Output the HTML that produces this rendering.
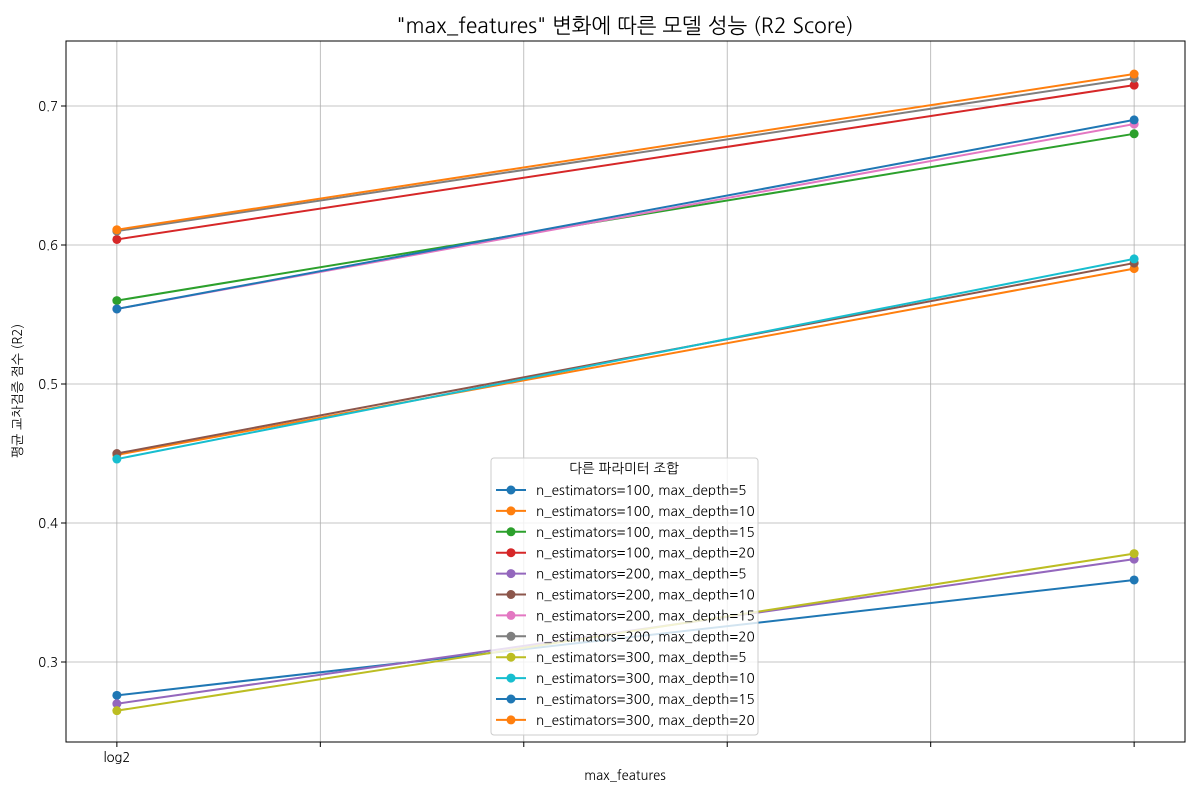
<!DOCTYPE html>
<html><head><meta charset="utf-8">
<style>
body{margin:0;background:#fff;}
svg text{font-family:"NanumGothic","Liberation Sans","Noto Sans CJK KR",sans-serif;}
</style></head>
<body>
<svg id="chart" width="1200" height="800" xmlns="http://www.w3.org/2000/svg">
<text x="625" y="33" text-anchor="middle" font-size="21">"max_features" 변화에 따른 모델 성능 (R2 Score)</text>
<g id="grid"></g>
<g id="axes"></g>
<g id="series"></g>
<rect x="66" y="41" width="1119" height="701" fill="none" stroke="#000" stroke-width="1"/>
<text x="625" y="780" text-anchor="middle" font-size="13">max_features</text>
<text transform="translate(22,391) rotate(-90)" text-anchor="middle" font-size="13">평균 교차검증 점수 (R2)</text>
<g id="legend"></g>
</svg>
<script>
const seriesNames = ["n_estimators=100, max_depth=5","n_estimators=100, max_depth=10","n_estimators=100, max_depth=15","n_estimators=100, max_depth=20","n_estimators=200, max_depth=5","n_estimators=200, max_depth=10","n_estimators=200, max_depth=15","n_estimators=200, max_depth=20","n_estimators=300, max_depth=5","n_estimators=300, max_depth=10","n_estimators=300, max_depth=15","n_estimators=300, max_depth=20"];
const startValues = [0.276,0.449,0.560,0.604,0.270,0.450,0.554,0.610,0.265,0.446,0.554,0.611];
const endValues   = [0.359,0.583,0.680,0.715,0.374,0.587,0.687,0.720,0.378,0.590,0.690,0.723];
const xPositions = [0,1];
const xTickValues = [0,0.2,0.4,0.6,0.8,1.0];
const xTickLabels = ["log2","","","","",""];
const yTickValues = [0.3,0.4,0.5,0.6,0.7];
const yTickLabels = ["0.3","0.4","0.5","0.6","0.7"];
const colors = ["#1f77b4","#ff7f0e","#2ca02c","#d62728","#9467bd","#8c564b","#e377c2","#7f7f7f","#bcbd22","#17becf","#1f77b4","#ff7f0e"];

const NS="http://www.w3.org/2000/svg";
const L=66,R=1185,T=41,B=742;
function xs(v){return L+(v+0.05)/1.1*(R-L);}
function ys(v){return 662-(v-0.3)*1390;}
function mk(tag,at,parent){const e=document.createElementNS(NS,tag);for(const k in at)e.setAttribute(k,at[k]);parent.appendChild(e);return e;}
const grid=document.getElementById('grid'),axes=document.getElementById('axes'),ser=document.getElementById('series'),leg=document.getElementById('legend');
xTickValues.forEach((v,i)=>{
  const x=xs(v);
  const g=mk('line',{x1:x,x2:x,y1:T,y2:B,stroke:'#b0b0b0','stroke-width':0.8},grid);
  
  
  const t=mk('line',{x1:x,x2:x,y1:B,y2:B+5,stroke:'#000'},axes);
  
  
  const tx=mk('text',{x:x,y:B+20,'text-anchor':'middle','font-size':13},axes);
  
  
  tx.textContent=xTickLabels[i];
});
yTickValues.forEach((v,i)=>{
  const y=ys(v);
  const g=mk('line',{x1:L,x2:R,y1:y,y2:y,stroke:'#b0b0b0','stroke-width':0.8},grid);
  
  
  const t=mk('line',{x1:L-5,x2:L,y1:y,y2:y,stroke:'#000'},axes);
  
  
  const tx=mk('text',{x:L-8,y:y+5,'text-anchor':'end','font-size':13},axes);
  
  
  tx.textContent=yTickLabels[i];
});
seriesNames.forEach((n,i)=>{
  const vals=[startValues[i],endValues[i]];
  const g=mk('g',{},ser);
  
  
  mk('polyline',{points:xPositions.map((x,j)=>xs(x)+','+ys(vals[j])).join(' '),fill:'none',stroke:colors[i],'stroke-width':2},g);
  xPositions.forEach((x,j)=>{
    const c=mk('circle',{cx:xs(x),cy:ys(vals[j]),r:4.5,fill:colors[i]},g);
    
    
  });
});
const lb=mk('rect',{x:491,y:458,width:267,height:277,rx:3,fill:'#fff','fill-opacity':0.8,stroke:'#ccc'},leg);


const lt=mk('text',{x:624,y:473,'text-anchor':'middle','font-size':13.6},leg);


lt.textContent='다른 파라미터 조합';
seriesNames.forEach((n,i)=>{
  const y=490+i*20.9;
  const g=mk('g',{},leg);
  
  
  mk('line',{x1:496,x2:526,y1:y,y2:y,stroke:colors[i],'stroke-width':2},g);
  mk('circle',{cx:511,cy:y,r:4.5,fill:colors[i]},g);
  const t=mk('text',{x:536,y:y+5,'font-size':13.6},g);
  t.textContent=n;
});
</script>
</body></html>
